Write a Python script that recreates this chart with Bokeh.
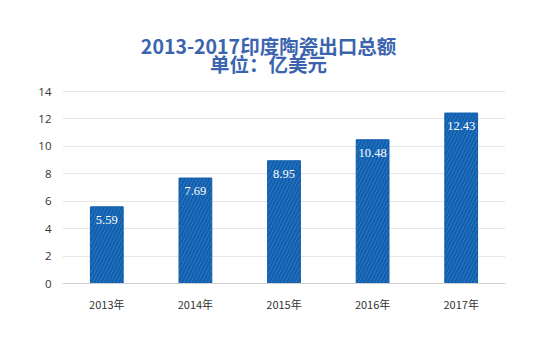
from bokeh.plotting import figure
from bokeh.models import ColumnDataSource, Label, LabelSet, FixedTicker
from bokeh.embed import file_html
from bokeh.resources import INLINE

years = ["2013年", "2014年", "2015年", "2016年", "2017年"]
values = [5.59, 7.69, 8.95, 10.48, 12.43]
labels = ["5.59", "7.69", "8.95", "10.48", "12.43"]
y_ticks = [0, 2, 4, 6, 8, 10, 12, 14]
title_line1 = "2013-2017印度陶瓷出口总额"
title_line2 = "单位：亿美元"

src = ColumnDataSource(dict(x=years, top=values, label=labels))

# frame extends above 14 to leave room for the centred two-line title
p = figure(x_range=years, y_range=(0, 14 * 263 / 192), width=550, height=352,
           output_backend="svg", toolbar_location=None,
           min_border_left=62, min_border_right=45, min_border_top=20,
           min_border_bottom=69)
p.title = None

for txt, ys in ((title_line1, 238), (title_line2, 220)):
    p.add_layout(Label(x=206, y=ys, x_units="screen", y_units="screen", text=txt,
                       text_align="center", text_baseline="middle",
                       text_font="Noto Sans CJK SC", text_font_size="19.5px",
                       text_font_style="bold", text_color="#3B64AE"))

p.vbar(x="x", top="top", width=0.37, source=src, fill_color="#0F5FAE",
       line_color="#0F5FAE", hatch_pattern="/", hatch_color="#4A8AD0",
       hatch_alpha=0.55, hatch_scale=7, hatch_weight=1)

lab = LabelSet(x="x", y="top", text="label", source=src, text_align="center",
               text_baseline="top", y_offset=-9, text_color="white",
               text_font="Open Sans", text_font_size="12.5px")
p.add_layout(lab)

p.outline_line_color = None
p.background_fill_color = "white"
p.border_fill_color = "white"
p.xgrid.grid_line_color = None
p.ygrid.grid_line_color = "#E6E6E6"
p.yaxis.ticker = FixedTicker(ticks=y_ticks)
p.yaxis.axis_line_color = None
p.yaxis.major_tick_line_color = None
p.yaxis.minor_tick_line_color = None
p.yaxis.major_label_text_font_size = "11.5px"
p.yaxis.major_label_text_color = "#333333"
p.yaxis.major_label_text_font = "Open Sans"
p.xaxis.axis_line_color = "#D0D0D0"
p.xaxis.major_tick_line_color = None
p.xaxis.minor_tick_line_color = None
p.xaxis.major_label_text_font_size = "11px"
p.xaxis.major_label_text_color = "#333333"
p.xaxis.major_label_text_font = "Noto Sans CJK SC"
p.xaxis.major_label_standoff = 6

open("out.html", "w").write(file_html(p, INLINE))
